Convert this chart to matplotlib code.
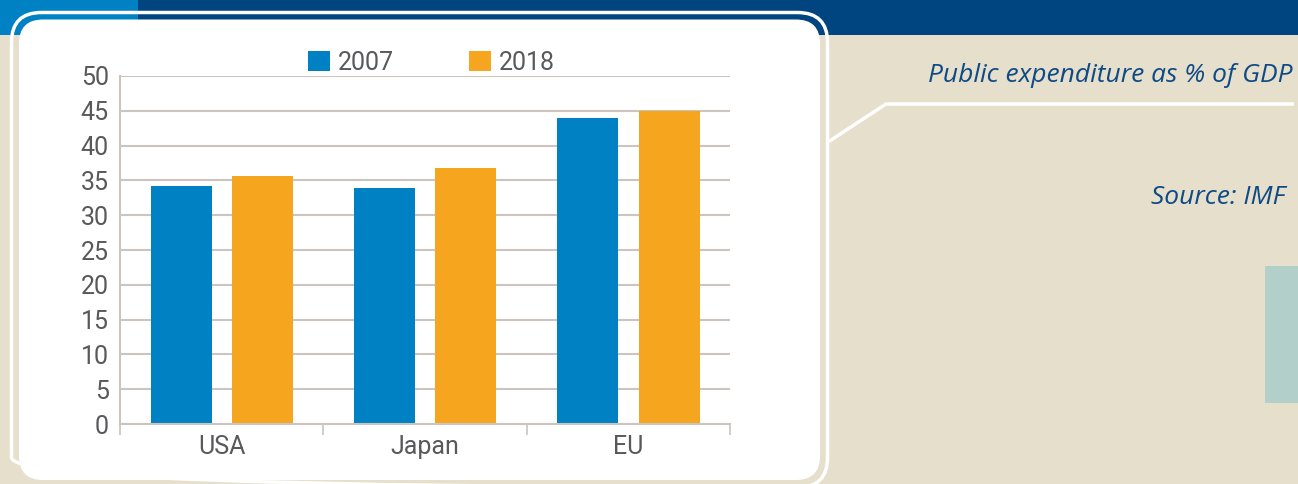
import matplotlib
matplotlib.use("Agg")
import matplotlib.pyplot as plt
from matplotlib.patches import FancyBboxPatch, Rectangle
import numpy as np

# data
regions = ["USA", "Japan", "EU"]
years = ["2007", "2018"]
vals_2007 = [34.2, 33.9, 44.0]
vals_2018 = [35.6, 36.8, 45.0]
yticks = list(range(0, 55, 5))

blue = "#0081c3"
orange = "#f6a61e"
navy = "#00457f"
beige = "#e6dfcc"
grid_c = "#cbc4bf"
txt_c = "#58595b"

fig = plt.figure(figsize=(12.98, 4.84), dpi=100)
fig.patch.set_facecolor(beige)

# background decoration in pixel coords
bg = fig.add_axes([0, 0, 1, 1], zorder=0)
bg.set_xlim(0, 1298)
bg.set_ylim(484, 0)
bg.axis("off")
bg.add_patch(Rectangle((0, 0), 138, 35, color=blue, lw=0))
bg.add_patch(Rectangle((138, 0), 1160, 35, color=navy, lw=0))
bg.add_patch(Rectangle((1265, 266), 40, 137, color="#b3cfc9", lw=0))
# panel outline + white panel
bg.add_patch(FancyBboxPatch((11.5, 12.5), 816, 475, boxstyle="round,pad=0,rounding_size=30",
                            fc="none", ec="white", lw=2.5))
bg.add_patch(FancyBboxPatch((19, 19.5), 801, 460.5, boxstyle="round,pad=0,rounding_size=24",
                            fc="white", ec="none"))
# connector line
bg.plot([828, 886, 1294], [142, 104, 104], color="white", lw=2.5, solid_capstyle="butt")

bg.text(1293, 76, "Public expenditure as % of GDP", family="Open Sans", style="italic",
        fontsize=19, color="#0d4a86", ha="right", va="center")
bg.text(1285, 197, "Source: IMF", family="Open Sans", style="italic",
        fontsize=19, color="#0d4a86", ha="right", va="center")

# chart
ax = fig.add_axes([120 / 1298, 60 / 484, 610 / 1298, 348 / 484], zorder=1)
ax.set_facecolor("none")
x = np.arange(len(regions))
w = 0.3
ax.bar(x - 0.2, vals_2007, w, color=blue, label=years[0], zorder=2)
ax.bar(x + 0.2, vals_2018, w, color=orange, label=years[1], zorder=2)

ax.set_xlim(-0.5, 2.5)
ax.set_ylim(0, 50)
ax.set_yticks(yticks)
ax.yaxis.grid(True, color=grid_c, lw=1.5, zorder=0)
ax.set_axisbelow(True)
for s in ["top", "right"]:
    ax.spines[s].set_visible(False)
for s in ["left", "bottom"]:
    ax.spines[s].set_color(grid_c)
    ax.spines[s].set_linewidth(1.5)

ax.set_xticks([-0.5, 0.5, 1.5, 2.5])
ax.set_xticklabels([])
ax.set_xticks(x, minor=True)
ax.set_xticklabels(regions, minor=True)
ax.tick_params(axis="x", which="major", length=8, color=grid_c, width=1.2)
ax.tick_params(axis="x", which="minor", length=0, pad=8)
ax.tick_params(axis="y", length=0, pad=8)
for lab in ax.get_yticklabels() + ax.get_xticklabels(minor=True):
    lab.set_family("Roboto")
    lab.set_fontweight("normal")
    lab.set_fontsize(18)
    lab.set_color(txt_c)

leg = ax.legend(loc="lower center", bbox_to_anchor=(0.51, 0.975), ncol=2, frameon=False,
                handlelength=0.9, handleheight=0.9, handletextpad=0.3, columnspacing=3.0,
                borderaxespad=0, prop={"family": "Roboto", "weight": "normal", "size": 18})
for t in leg.get_texts():
    t.set_color(txt_c)

fig.savefig("out.png", dpi=100, facecolor=beige)
